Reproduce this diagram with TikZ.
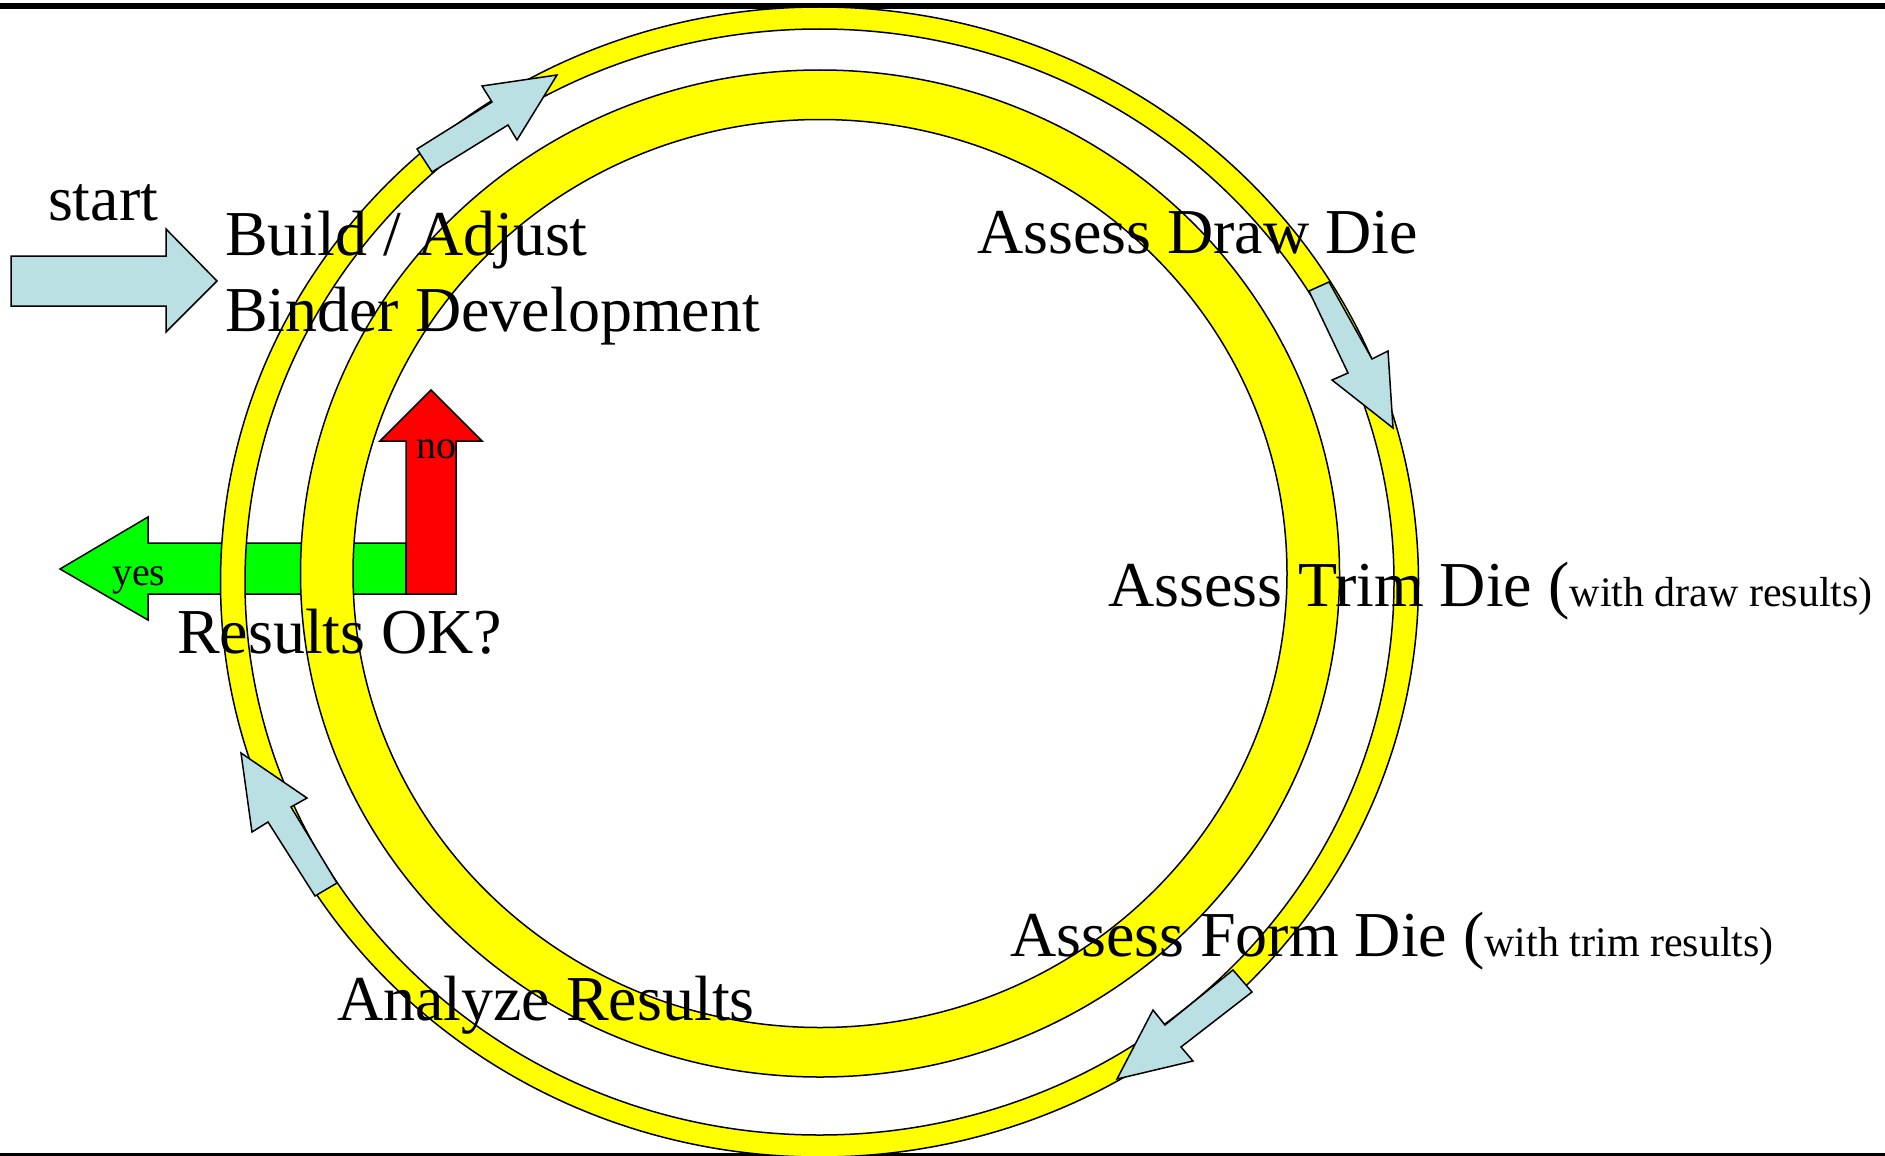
\documentclass[tikz,border=0pt]{standalone}
\usepackage{fontspec}
\setmainfont{Liberation Serif}
\definecolor{ringyellow}{RGB}{255,255,0}
\definecolor{arrowblue}{RGB}{187,224,227}
\definecolor{yesgreen}{RGB}{0,255,0}
\definecolor{nored}{RGB}{255,0,0}
\tikzset{
  outline/.style={draw=black, line width=1.5pt, line join=miter},
  ringband/.style={outline, fill=ringyellow, even odd rule},
  bluearrow/.style={outline, fill=arrowblue},
  bigtext/.style={anchor=base west, inner sep=0pt, outer sep=0pt, font=\fontsize{64}{76}\selectfont},
  smalltext/.style={anchor=base west, inner sep=0pt, outer sep=0pt, font=\fontsize{40}{48}\selectfont},
}
\newcommand{\paren}[1]{{\fontsize{42}{50}\selectfont #1}}
\begin{document}
\begin{tikzpicture}[x=1pt,y=-1pt]
\useasboundingbox (0,0) rectangle (1885,1156);
\fill[white] (0,0) rectangle (1885,1156);
% frame lines
\fill[black] (0,3) rectangle (1885,9);
\fill[black] (0,1153) rectangle (1885,1156);
% yes / no arrows (under the rings)
\draw[outline, fill=yesgreen] (60,569) -- (148,517) -- (148,543) -- (406,543) -- (406,594) -- (148,594) -- (148,620) -- cycle;
\draw[outline, fill=nored] (406,594) -- (406,441) -- (380,441) -- (431,390) -- (482,441) -- (456,441) -- (456,594) -- cycle;
% rings
\draw[ringband] (819.5,582) ellipse [x radius=599, y radius=575]
                (819.5,582) ellipse [x radius=574.5, y radius=553];
\draw[ringband] (820,573.5) ellipse [x radius=519.5, y radius=503.5]
                (820,573.5) ellipse [x radius=467, y radius=454];
% blue arrows on the outer ring
\draw[bluearrow] (417,149) -- (492,102) -- (482,86) -- (557,75) -- (517,140) -- (508,125) -- (432,172) -- cycle;
\draw[bluearrow] (1309,291) -- (1348,373) -- (1332,380) -- (1393,428) -- (1388,351) -- (1372,359) -- (1329,282) -- cycle;
\draw[bluearrow] (1233,970) -- (1165,1025) -- (1153,1010) -- (1117,1079) -- (1193,1061) -- (1181,1047) -- (1252,992) -- cycle;
\draw[bluearrow] (315,896) -- (268,822) -- (252,832) -- (241,753) -- (307,798) -- (291,807) -- (337,883) -- cycle;
% start arrow
\draw[bluearrow] (11,256) -- (166,256) -- (166,229) -- (217,281) -- (166,332) -- (166,306) -- (11,306) -- cycle;
% texts
\node[bigtext] (start) at (48,220) {start};
\node[bigtext] (build) at (225,255) {Build / Adjust};
\node[bigtext] (binder) at (225,331) {Binder Development};
\node[bigtext] (draw) at (977,253) {Assess Draw Die};
\node[bigtext] (trim) at (1108,606) {Assess Trim Die (\paren{with draw results)}};
\node[bigtext] (form) at (1010,956) {Assess Form Die (\paren{with trim results)}};
\node[bigtext] (analyze) at (337,1020) {Analyze Results};
\node[bigtext] (ok) at (177,653) {Results OK?};
\node[smalltext] (yes) at (112,585) {yes};
\node[smalltext] (no) at (416,458) {no};
\end{tikzpicture}
\end{document}
